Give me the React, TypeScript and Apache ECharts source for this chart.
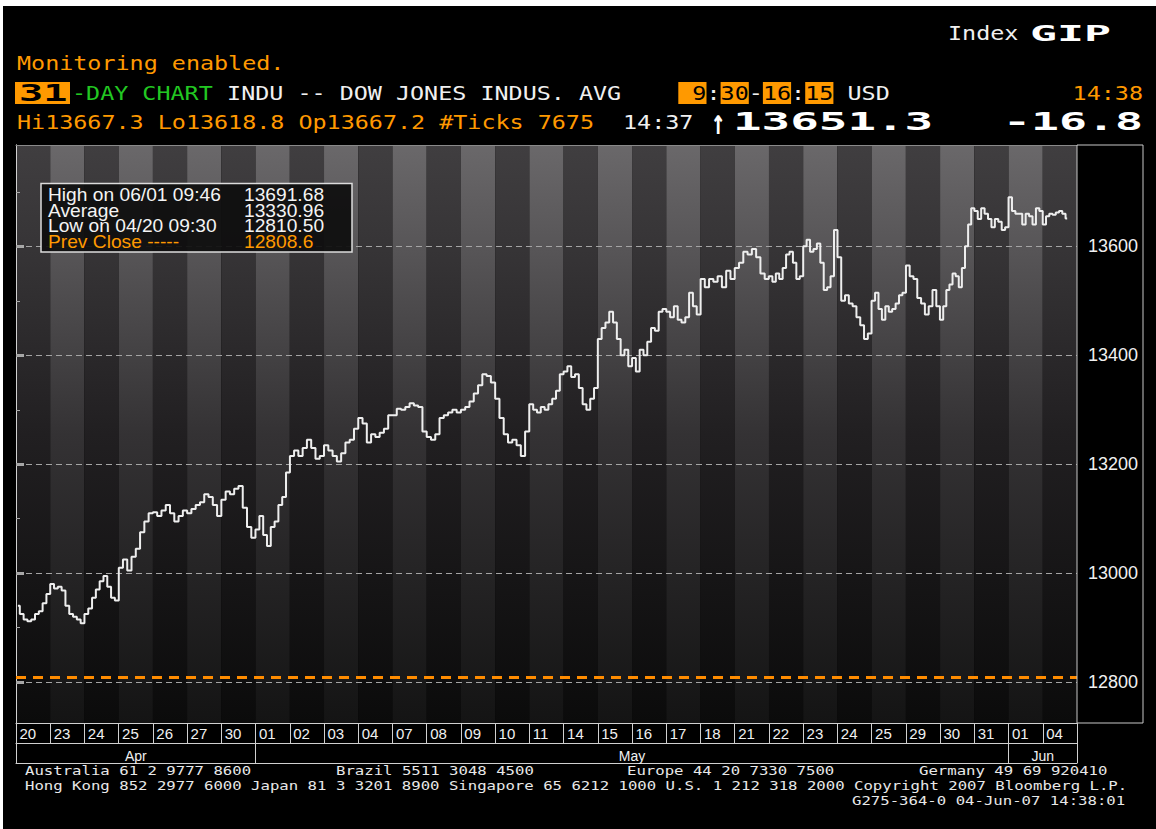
import React, { useEffect, useRef } from "react";
import * as echarts from "echarts";

// ---------- data ----------
const aprDays = ["20", "23", "24", "25", "26", "27", "30"];
const mayDays = ["01", "02", "03", "04", "07", "08", "09", "10", "11", "14", "15", "16", "17", "18", "21", "22", "23", "24", "25", "29", "30", "31"];
const junDays = ["01", "04"];
const monthNames = ["Apr", "May", "Jun"];

const aprValues: number[][] = [
  [12940, 12925, 12915, 12912, 12915, 12925, 12930, 12945, 12962],
  [12980, 12972, 12975, 12968, 12940, 12925, 12920, 12915, 12908],
  [12925, 12935, 12955, 12970, 12985, 12995, 12975, 12955, 12950],
  [13010, 13025, 13005, 13030, 13045, 13075, 13095, 13110],
  [13112, 13105, 13115, 13125, 13110, 13095, 13105, 13115],
  [13110, 13118, 13125, 13130, 13145, 13140, 13125, 13105],
  [13135, 13150, 13145, 13155, 13160, 13120, 13085, 13065],
];
const mayValues: number[][] = [
  [13080, 13105, 13070, 13050, 13085, 13095, 13125, 13140, 13185],
  [13215, 13225, 13215, 13230, 13245, 13230, 13210, 13215],
  [13235, 13225, 13215, 13205, 13220, 13240, 13245, 13265],
  [13285, 13275, 13240, 13255, 13250, 13258, 13265, 13290],
  [13290, 13302, 13300, 13305, 13312, 13308, 13305, 13260],
  [13250, 13245, 13255, 13285, 13290, 13295, 13300, 13295],
  [13300, 13305, 13315, 13330, 13345, 13365, 13362, 13350],
  [13320, 13285, 13255, 13240, 13245, 13235, 13215, 13260],
  [13310, 13300, 13295, 13305, 13300, 13310, 13320, 13335, 13365],
  [13370, 13380, 13360, 13365, 13340, 13310, 13300, 13320, 13340],
  [13430, 13450, 13460, 13480, 13460, 13430, 13400, 13410, 13380],
  [13395, 13370, 13410, 13400, 13425, 13450, 13445, 13480, 13485],
  [13480, 13470, 13490, 13465, 13460, 13470, 13515, 13490, 13475],
  [13540, 13525, 13540, 13535, 13545, 13525, 13555, 13540],
  [13560, 13570, 13590, 13585, 13595, 13580, 13550, 13540],
  [13545, 13535, 13550, 13540, 13560, 13585, 13590, 13570, 13540, 13545],
  [13600, 13612, 13590, 13595, 13605, 13570, 13520, 13525, 13545, 13630],
  [13580, 13500, 13510, 13495, 13490, 13470, 13455, 13430, 13440],
  [13500, 13515, 13485, 13465, 13490, 13480, 13485, 13495, 13510, 13515],
  [13565, 13545, 13540, 13505, 13495, 13475, 13490, 13520, 13490],
  [13465, 13490, 13520, 13530, 13550, 13545, 13525, 13560, 13600, 13640, 13670],
  [13665, 13650, 13670, 13660, 13650, 13635, 13650, 13645, 13630, 13635],
];
const junValues: number[][] = [
  [13690, 13665, 13660, 13660, 13640, 13660, 13655, 13640, 13670, 13665],
  [13640, 13655, 13660, 13658, 13662, 13665, 13660, 13651.3],
];

const yTickValues = [12800, 13000, 13200, 13400, 13600];
const yMinorTickValues = [12900, 13100, 13300, 13500, 13700];
const yMin = 12725;
const yMax = 13786;
const prevClose = 12808.6;

const sessionOpen = "9:30";
const sessionClose = "16:15";
const lastTime = "14:38";

const statsLabels = ["High on 06/01 09:46", "Average", "Low on 04/20 09:30", "Prev Close -----"];
const statsValues = ["13691.68", "13330.96", "12810.50", "12808.6"];

const headerStats = "Hi13667.3 Lo13618.8 Op13667.2 #Ticks 7675";
const lastTickTime = "14:37";
const lastPrice = "13651.3";
const netChange = "-16.8";

const footerLine1 = ["Australia 61 2 9777 8600", "Brazil 5511 3048 4500", "Europe 44 20 7330 7500", "Germany 49 69 920410"];
const footerLine2 = "Hong Kong 852 2977 6000 Japan 81 3 3201 8900 Singapore 65 6212 1000 U.S. 1 212 318 2000 Copyright 2007 Bloomberg L.P.";
const footerLine3 = "G275-364-0 04-Jun-07 14:38:01";

// ---------- derived ----------
const toMin = (s: string) => {
  const [h, m] = s.split(":").map(Number);
  return h * 60 + m;
};
const lastFrac = (toMin(lastTime) - toMin(sessionOpen)) / (toMin(sessionClose) - toMin(sessionOpen));
const dayLabels = [...aprDays, ...mayDays, ...junDays];
const allValues = [...aprValues, ...mayValues, ...junValues];
const monthCounts = [aprDays.length, mayDays.length, junDays.length];
const monthEdges = monthCounts.reduce((acc, c) => [...acc, acc[acc.length - 1] + c], [0]);
const monthCenters = monthNames.map((_, i) => (monthEdges[i] + monthEdges[i + 1]) / 2);
const nDays = dayLabels.length;

const points: number[][] = [];
allValues.forEach((vals, k) => {
  const frac = k === allValues.length - 1 ? lastFrac : 1;
  vals.forEach((v, i) => points.push([k + ((i + 0.5) / vals.length) * frac, v]));
});

const ORANGE = "#ff9900";
const GREEN = "#22c822";
const MONO = '"DejaVu Sans Mono", monospace';

function term(text: string, x: number, y: number, fill: string, o: any = {}) {
  const size = o.size ?? 19.5;
  return {
    type: "text",
    x,
    y,
    scaleX: o.sx ?? 1.2,
    scaleY: o.sy ?? 1,
    z: 100,
    style: {
      text,
      fill,
      font: `${o.bold ? "bold " : ""}${size}px ${MONO}`,
      align: o.align ?? "left",
      textAlign: o.align ?? "left",
      verticalAlign: "middle",
      textVerticalAlign: "middle",
    },
  };
}
function box(x: number, y: number, w: number, h: number, fill: string) {
  return { type: "rect", z: 90, shape: { x, y, width: w, height: h }, style: { fill } };
}

const grad = (stops: [number, string][]) =>
  new echarts.graphic.LinearGradient(0, 0, 0, 1, stops.map(([offset, color]) => ({ offset, color })));

export default function App() {
  const ref = useRef<HTMLDivElement>(null);
  useEffect(() => {
    document.body.style.margin = "0";
    const chart = echarts.init(ref.current!, null, { renderer: "svg" });
    const P = 14.1; // terminal char pitch
    const row2x = 72;
    const R1 = 63;
    const R2 = 93;
    const R3 = 122;
    const BOXY = 82;
    const BOXH = 22;
    const FS = 12.5;
    const FSX = 9.43 / (0.602 * FS);
    const graphic: any[] = [
      { type: "rect", z: 200, shape: { x: 0, y: 0, width: 1156, height: 6 }, style: { fill: "#fff" } },
      { type: "rect", z: 200, shape: { x: 0, y: 0, width: 3, height: 829 }, style: { fill: "#fff" } },
      term("Index", 948, 33, "#f0f0f0"),
      term("GIP", 1030, 33, "#ffffff", { bold: true, size: 22, sx: 2.04 }),
      term("Monitoring enabled.", 17, R1, ORANGE),
      box(15, BOXY, 55, BOXH, ORANGE),
      term("31", 19, R2, "#000", { bold: true, size: 23, sx: 1.75 }),
      term("-DAY CHART", row2x, R2, GREEN),
      term("INDU -- DOW JONES INDUS. AVG", row2x + 11 * P, R2, "#f0f0f0"),
      box(row2x + 43 * P, BOXY, 2 * P, BOXH, ORANGE),
      box(row2x + 46 * P, BOXY, 2 * P, BOXH, ORANGE),
      box(row2x + 49 * P, BOXY, 2 * P, BOXH, ORANGE),
      box(row2x + 52 * P, BOXY, 2 * P, BOXH, ORANGE),
      term(sessionOpen.split(":")[0].padStart(2, " "), row2x + 43 * P, R2, "#000"),
      term(":", row2x + 45 * P, R2, "#f0f0f0"),
      term(sessionOpen.split(":")[1], row2x + 46 * P, R2, "#000"),
      term("-", row2x + 48 * P, R2, "#f0f0f0"),
      term(sessionClose.split(":")[0], row2x + 49 * P, R2, "#000"),
      term(":", row2x + 51 * P, R2, "#f0f0f0"),
      term(sessionClose.split(":")[1], row2x + 52 * P, R2, "#000"),
      term("USD", row2x + 55 * P, R2, "#f0f0f0"),
      term(lastTime, 1143, R2, ORANGE, { align: "right" }),
      term(headerStats, 17, R3, ORANGE),
      term(lastTickTime, 623, R3, "#f0f0f0"),
      term("\u2191", 711, R3, "#ffffff", { bold: true, size: 26, sx: 0.9, sy: 1.35 }),
      term(lastPrice, 733, R3, "#ffffff", { bold: true, size: 24, sx: 1.98 }),
      term(netChange, 1143, R3, "#ffffff", { bold: true, size: 24, sx: 1.94, align: "right" }),
      // right axis frame
      { type: "rect", z: 80, shape: { x: 1077, y: 145, width: 66, height: 578 }, style: { fill: "none", stroke: "#c8c8c8", lineWidth: 1 } },
      // stats box
      { type: "rect", z: 95, shape: { x: 41, y: 183.5, width: 311, height: 68.5 }, style: { fill: "rgba(14,14,14,0.93)", stroke: "#dcdcdc", lineWidth: 1.5 } },
      ...statsLabels.flatMap((lab, i) => {
        const y = 195 + i * 15.5;
        const c = i === 3 ? ORANGE : "#f4f4f4";
        const f = '15px "Liberation Sans", Arial, sans-serif';
        const mk = (text: string, x: number) => ({
          type: "text",
          z: 100,
          x,
          y,
          scaleX: 1.28,
          scaleY: 1.25,
          style: { text, fill: c, font: f, verticalAlign: "middle", textVerticalAlign: "middle" },
        });
        return [mk(lab, 48), mk(statsValues[i], 244)];
      }),
      // footer
      term(footerLine1[0], 25, 771, "#e8e8e8", { size: FS, sx: FSX }),
      term(footerLine1[1], 336, 771, "#e8e8e8", { size: FS, sx: FSX }),
      term(footerLine1[2], 627, 771, "#e8e8e8", { size: FS, sx: FSX }),
      term(footerLine1[3], 919, 771, "#e8e8e8", { size: FS, sx: FSX }),
      term(footerLine2, 25, 786, "#e8e8e8", { size: FS, sx: FSX }),
      term(footerLine3, 852, 801, "#e8e8e8", { size: FS, sx: FSX }),
    ];

    const lightStripe = grad([[0, "#6a686a"], [0.2, "#555355"], [0.5, "#343234"], [1, "#141414"]]);
    const darkStripe = grad([[0, "#403e40"], [0.2, "#353335"], [0.5, "#211f21"], [1, "#0b0b0b"]]);
    const dayIdx = dayLabels.map((_, i) => i);
    const labelFont = { fontFamily: '"Liberation Sans", Arial, sans-serif', color: "#f0f0f0" };

    chart.setOption({
      animation: false,
      backgroundColor: "#000",
      graphic,
      grid: { left: 16, top: 145, width: 1061, height: 578, containLabel: false },
      xAxis: [
        {
          type: "value",
          min: 0,
          max: nDays,
          position: "bottom",
          axisLine: { show: true, lineStyle: { color: "#d0d0d0", width: 1 } },
          axisTick: { show: true, customValues: [...dayIdx, nDays], length: 20, inside: false, lineStyle: { color: "#d0d0d0" } },
          axisLabel: {
            show: true,
            customValues: dayIdx.map((i) => i + 0.1),
            formatter: (v: number) => dayLabels[Math.floor(v)],
            align: "left",
            margin: 3,
            fontSize: 15,
            ...labelFont,
          },
          splitLine: { show: false },
          splitArea: { show: true, areaStyle: { color: [darkStripe, lightStripe] } },
        },
        {
          type: "value",
          min: 0,
          max: nDays,
          position: "bottom",
          offset: 20,
          axisLine: { show: true, lineStyle: { color: "#d0d0d0", width: 1 } },
          axisTick: { show: true, customValues: monthEdges, length: 20, inside: false, lineStyle: { color: "#d0d0d0" } },
          axisLabel: {
            show: true,
            customValues: monthCenters,
            formatter: (v: number) => monthNames[monthCenters.indexOf(v)],
            margin: 6,
            fontSize: 14,
            ...labelFont,
          },
          splitLine: { show: false },
        },
        {
          type: "value",
          min: 0,
          max: nDays,
          position: "bottom",
          offset: 40,
          axisLine: { show: true, lineStyle: { color: "#d0d0d0", width: 1 } },
          axisTick: { show: false },
          axisLabel: { show: false },
          splitLine: { show: false },
        },
        {
          type: "value",
          min: 0,
          max: nDays,
          position: "top",
          axisLine: { show: true, lineStyle: { color: "#8a8a8a", width: 1 } },
          axisTick: { show: false },
          axisLabel: { show: false },
          splitLine: { show: false },
        },
      ],
      yAxis: [
        {
          type: "value",
          min: yMin,
          max: yMax,
          position: "right",
          axisLine: { show: true, lineStyle: { color: "#c8c8c8" } },
          axisTick: { show: true, customValues: yTickValues, length: 8, lineStyle: { color: "#a8a8a8", width: 3 } },
          axisLabel: {
            show: true,
            customValues: yTickValues,
            formatter: (v: number) => String(v),
            margin: 11,
            fontSize: 18,
            ...labelFont,
          },
          splitLine: { show: false },
        },
        {
          type: "value",
          min: yMin,
          max: yMax,
          position: "right",
          axisLine: { show: false },
          axisTick: { show: true, customValues: yMinorTickValues, length: 4, lineStyle: { color: "#a8a8a8" } },
          axisLabel: { show: false },
          splitLine: { show: false },
        },
        {
          type: "value",
          min: yMin,
          max: yMax,
          position: "left",
          axisLine: { show: true, lineStyle: { color: "#d0d0d0" } },
          axisTick: { show: false },
          axisLabel: { show: false },
          splitLine: { show: false },
        },
      ],
      series: [
        {
          type: "line",
          xAxisIndex: 0,
          yAxisIndex: 0,
          step: "middle",
          showSymbol: false,
          data: points,
          lineStyle: { color: "#eeeeee", width: 2 },
          z: 10,
          markLine: {
            silent: true,
            symbol: "none",
            label: { show: false },
            data: [
              ...yTickValues.map((v) => ({ yAxis: v, lineStyle: { color: "#a4a4a4", type: [6, 4], width: 1 } })),
              { yAxis: prevClose, lineStyle: { color: "#ff8c00", type: [10, 7], width: 3 } },
            ],
          },
        },
      ],
    });
    return () => chart.dispose();
  }, []);
  return <div ref={ref} style={{ width: 1156, height: 829 }} />;
}
